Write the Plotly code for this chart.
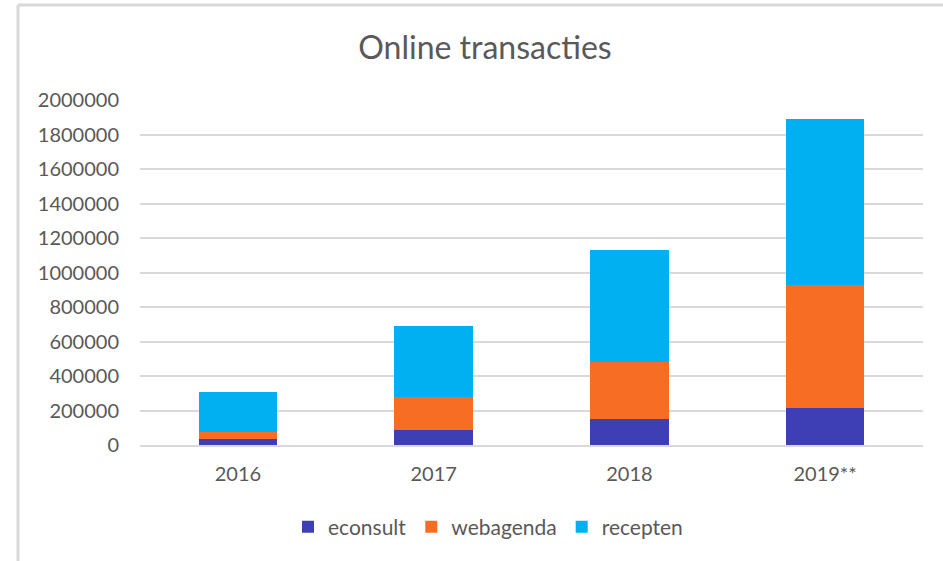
import plotly.graph_objects as go

years = ["2016", "2017", "2018", "2019**"]
econsult = [35000, 85000, 151000, 217000]
webagenda = [42000, 196000, 333000, 708000]
recepten = [231000, 410000, 647000, 966000]

tick_vals = [0, 200000, 400000, 600000, 800000, 1000000, 1200000, 1400000, 1600000, 1800000, 2000000]
tick_text = [str(v) for v in tick_vals]

FONT = "Lato"
GREY = "#595959"

fig = go.Figure()
fig.add_trace(go.Bar(name="econsult", x=years, y=econsult, marker=dict(color="#3F3FB5", line=dict(width=0))))
fig.add_trace(go.Bar(name="webagenda", x=years, y=webagenda, marker=dict(color="#F86D24", line=dict(width=0))))
fig.add_trace(go.Bar(name="recepten", x=years, y=recepten, marker=dict(color="#00B0F0", line=dict(width=0))))

W, H = 943, 561
L, R, T, B = 140, 20, 100, 116
pw = W - L - R
ph = H - T - B

def px(x):
    return (x - L) / pw

def py(y):
    return (H - B - y) / ph

fig.update_layout(
    barmode="stack",
    bargap=0.6,
    width=W, height=H,
    margin=dict(l=L, r=R, t=T, b=B),
    paper_bgcolor="white",
    plot_bgcolor="white",
    font=dict(family=FONT, color=GREY, size=20),
    title=dict(text="Online transacties", x=485 / W, xanchor="center",
               y=1 - 48 / H, yanchor="middle", yref="container",
               font=dict(family=FONT, size=32, color=GREY)),
    xaxis=dict(showgrid=False, showline=True, linecolor="#D9D9D9", linewidth=2,
               ticks="", ticklabelstandoff=10, tickfont=dict(size=20, color=GREY)),
    yaxis=dict(range=[0, 2000000], tickvals=tick_vals, ticktext=tick_text,
               showgrid=True, gridcolor="#D9D9D9", gridwidth=2, zeroline=False,
               ticks="", ticklabelstandoff=20, tickfont=dict(size=20, color=GREY)),
    legend=dict(orientation="h", x=px(488), xanchor="center", y=py(527), yanchor="middle",
                font=dict(size=21, color=GREY), itemwidth=30, traceorder="normal"),
    shapes=[
        dict(type="line", xref="paper", yref="paper", x0=px(18), x1=px(18), y0=py(5), y1=py(H),
             line=dict(color="#D9D9D9", width=3)),
        dict(type="line", xref="paper", yref="paper", x0=px(18), x1=px(W), y0=py(5), y1=py(5),
             line=dict(color="#D9D9D9", width=3)),
    ],
)

fig.write_html("out.html", config={"displayModeBar": False},
               post_script="document.body.style.margin='0';")
